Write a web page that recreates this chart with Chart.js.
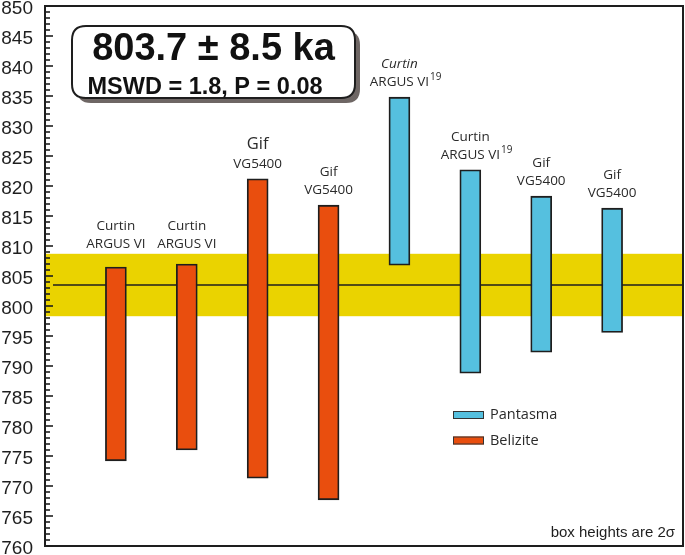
<!DOCTYPE html>
<html lang="en">
<head>
    <meta charset="UTF-8">
    <title>Ar-Ar ages, Pantasma and Belizite</title>
    <script src="https://cdn.jsdelivr.net/npm/chart.js"></script>
    <style>
        html, body {
            margin: 0;
            padding: 0;
            background: #ffffff;
        }
        #wrap {
            width: 685px;
            height: 555px;
        }
    </style>
</head>
<body>
    <div id="wrap">
        <canvas id="ageChart" width="685" height="555"></canvas>
    </div>

    <script>
        // data (ka)
        const belizitePos = [1, 2, 3, 4];
        const beliziteLow = [774.2, 776.0, 771.3, 767.7];
        const beliziteHigh = [806.5, 807.0, 821.2, 816.8];

        const pantasmaPos = [5, 6, 7, 8];
        const pantasmaLow = [806.8, 788.8, 792.3, 795.6];
        const pantasmaHigh = [834.8, 822.7, 818.3, 816.3];

        const labelLine1 = ['Curtin', 'Curtin', 'Gif', 'Gif', 'Curtin', 'Curtin', 'Gif', 'Gif'];
        const labelLine2 = ['ARGUS VI', 'ARGUS VI', 'VG5400', 'VG5400', 'ARGUS VI', 'ARGUS VI', 'VG5400', 'VG5400'];
        const labelSup = ['', '', '', '', '19', '19', '', ''];

        const meanAge = 803.5;
        const bandLow = 798.3;
        const bandHigh = 808.7;

        const yMin = 760;
        const yMax = 850;
        const yStep = 5;

        const titleText = '803.7 ± 8.5 ka';
        const statsText = 'MSWD = 1.8, P = 0.08';
        const noteText = 'box heights are 2\u03c3';

        const ORANGE = '#e94e0e';
        const BLUE = '#55c0df';
        const YELLOW = '#ead300';
        const INK = '#1e1e1e';
        const LABEL_FONT = '"Open Sans", "Noto Sans", sans-serif';
        const ARIAL = '"Liberation Sans", Arial, sans-serif';

        function toPoints(pos, lo, hi) {
            return pos.map((x, i) => ({ x: x, y: [lo[i], hi[i]] }));
        }

        function roundRect(ctx, x, y, w, h, r) {
            ctx.beginPath();
            ctx.moveTo(x + r, y);
            ctx.lineTo(x + w - r, y);
            ctx.quadraticCurveTo(x + w, y, x + w, y + r);
            ctx.lineTo(x + w, y + h - r);
            ctx.quadraticCurveTo(x + w, y + h, x + w - r, y + h);
            ctx.lineTo(x + r, y + h);
            ctx.quadraticCurveTo(x, y + h, x, y + h - r);
            ctx.lineTo(x, y + r);
            ctx.quadraticCurveTo(x, y, x + r, y);
            ctx.closePath();
        }

        // yellow 2-sigma band and weighted mean line, under the bars
        const bandPlugin = {
            id: 'band',
            beforeDatasetsDraw(chart) {
                const { ctx, chartArea, scales } = chart;
                const y = scales.y;
                ctx.save();
                ctx.fillStyle = YELLOW;
                const top = y.getPixelForValue(bandHigh);
                const bot = y.getPixelForValue(bandLow);
                ctx.fillRect(chartArea.left, top, chartArea.right - chartArea.left, bot - top);

                const ym = y.getPixelForValue(meanAge);
                ctx.strokeStyle = INK;
                ctx.lineWidth = 1.6;
                ctx.beginPath();
                ctx.moveTo(chartArea.left + 8, ym);
                ctx.lineTo(chartArea.right, ym);
                ctx.stroke();
                ctx.restore();
            }
        };

        // frame, inward ticks, bar labels, legend, result box
        const decorPlugin = {
            id: 'decor',
            afterDraw(chart) {
                const { ctx, chartArea, scales } = chart;
                const y = scales.y;
                ctx.save();

                // frame
                ctx.strokeStyle = INK;
                ctx.lineWidth = 2;
                ctx.strokeRect(chartArea.left, chartArea.top, chartArea.right - chartArea.left, chartArea.bottom - chartArea.top);

                // minor + major ticks pointing into the plot
                ctx.lineWidth = 1.6;
                for (let v = yMin; v <= yMax; v++) {
                    const py = y.getPixelForValue(v);
                    const len = v % yStep === 0 ? 8 : 5;
                    ctx.beginPath();
                    ctx.moveTo(chartArea.left, py);
                    ctx.lineTo(chartArea.left + len, py);
                    ctx.stroke();
                }

                // labels above each bar
                const bandTopPx = y.getPixelForValue(bandHigh);
                const bars = [];
                chart.data.datasets.forEach((ds, di) => {
                    chart.getDatasetMeta(di).data.forEach((el, j) => {
                        bars.push({ x: el.x, top: Math.min(el.y, el.base), pos: ds.data[j].x });
                    });
                });
                bars.sort((a, b) => a.pos - b.pos);
                ctx.fillStyle = '#2a2a2a';
                ctx.textAlign = 'center';
                ctx.textBaseline = 'middle';
                bars.forEach((b, i) => {
                    const y2 = Math.min(b.top - 15, bandTopPx - 10);
                    const big = i === 2;
                    const y1 = y2 - (big ? 20 : 18);
                    const italic = i === 4 ? 'italic ' : '';
                    ctx.font = italic + (big ? '16.5px ' : '13.5px ') + LABEL_FONT;
                    ctx.fillText(labelLine1[i], b.x, y1);
                    ctx.font = '13.5px ' + LABEL_FONT;
                    ctx.fillText(labelLine2[i], b.x, y2);
                    if (labelSup[i]) {
                        const w = ctx.measureText(labelLine2[i]).width;
                        ctx.textAlign = 'left';
                        ctx.font = '10px ' + LABEL_FONT;
                        ctx.fillText(labelSup[i], b.x + w / 2 + 1, y2 - 5);
                        ctx.textAlign = 'center';
                    }
                });

                // legend
                const legendItems = [
                    { label: chart.data.datasets[1].label, color: chart.data.datasets[1].backgroundColor },
                    { label: chart.data.datasets[0].label, color: chart.data.datasets[0].backgroundColor }
                ];
                ctx.textAlign = 'left';
                ctx.font = '14.5px ' + LABEL_FONT;
                legendItems.forEach((it, k) => {
                    const ly = 411 + k * 25.5;
                    ctx.fillStyle = it.color;
                    ctx.fillRect(453, ly, 31, 8);
                    ctx.strokeStyle = '#333';
                    ctx.lineWidth = 1;
                    ctx.strokeRect(453.5, ly + 0.5, 30, 7);
                    ctx.fillStyle = '#2a2a2a';
                    ctx.fillText(it.label, 490, ly + 4);
                });

                // note bottom right
                ctx.textAlign = 'right';
                ctx.textBaseline = 'alphabetic';
                ctx.fillStyle = INK;
                ctx.font = '15px ' + ARIAL;
                ctx.fillText(noteText, 675, 537);

                // result box with drop shadow
                ctx.fillStyle = '#6e6664';
                roundRect(ctx, 77, 31, 283, 72, 14);
                ctx.fill();
                ctx.fillStyle = '#ffffff';
                roundRect(ctx, 72, 26, 283, 72, 14);
                ctx.fill();
                ctx.strokeStyle = INK;
                ctx.lineWidth = 2;
                ctx.stroke();

                ctx.fillStyle = '#111';
                ctx.textAlign = 'center';
                ctx.font = 'bold 38px ' + ARIAL;
                ctx.fillText(titleText, 213.5, 60);
                ctx.font = 'bold 23.5px ' + ARIAL;
                ctx.fillText(statsText, 205, 94);

                ctx.restore();
            }
        };

        const ctx = document.getElementById('ageChart').getContext('2d');
        new Chart(ctx, {
            type: 'bar',
            data: {
                datasets: [{
                    label: 'Belizite',
                    data: toPoints(belizitePos, beliziteLow, beliziteHigh),
                    backgroundColor: ORANGE,
                    borderColor: INK,
                    borderWidth: 1.8,
                    borderSkipped: false,
                    barThickness: 21
                }, {
                    label: 'Pantasma',
                    data: toPoints(pantasmaPos, pantasmaLow, pantasmaHigh),
                    backgroundColor: BLUE,
                    borderColor: INK,
                    borderWidth: 1.8,
                    borderSkipped: false,
                    barThickness: 21
                }]
            },
            options: {
                responsive: false,
                animation: false,
                devicePixelRatio: 1,
                grouped: false,
                layout: {
                    padding: { top: 6, right: 2, bottom: 9, left: 0 }
                },
                plugins: {
                    legend: { display: false },
                    tooltip: { enabled: false }
                },
                scales: {
                    x: {
                        type: 'linear',
                        min: 0,
                        max: 9,
                        offset: false,
                        display: false
                    },
                    y: {
                        min: yMin,
                        max: yMax,
                        grid: { display: false, drawTicks: false },
                        border: { display: false },
                        ticks: {
                            stepSize: yStep,
                            padding: 12,
                            labelOffset: 3,
                            color: INK,
                            font: { family: ARIAL, size: 19 }
                        },
                        afterFit(scale) {
                            scale.width = 45;
                            scale.paddingTop = 0;
                            scale.paddingBottom = 0;
                        }
                    }
                }
            },
            plugins: [bandPlugin, decorPlugin]
        });
    </script>
</body>
</html>
